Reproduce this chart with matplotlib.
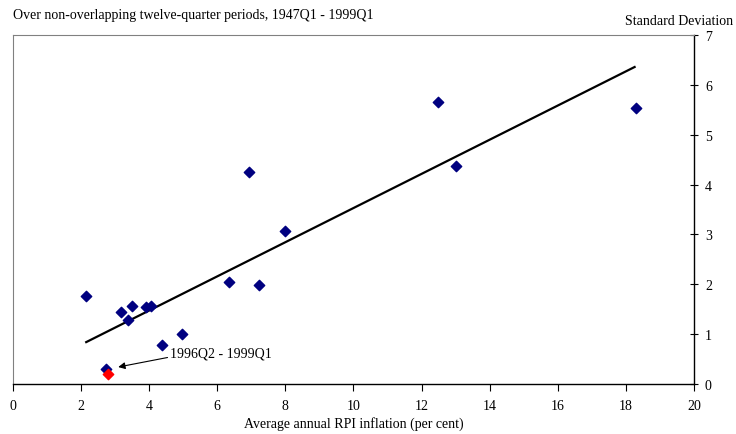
import matplotlib.pyplot as plt

plt.rcParams['font.family'] = ['Liberation Serif', 'DejaVu Serif']

# average annual RPI inflation (x) vs standard deviation (y)
inflation = [2.15, 3.18, 3.5, 3.38, 3.91, 4.06, 4.38, 4.97, 2.74,
             6.35, 7.24, 6.94, 8.0, 12.47, 13.0, 18.29]
std_dev = [1.76, 1.44, 1.56, 1.28, 1.54, 1.56, 0.78, 1.0, 0.30,
           2.05, 1.99, 4.25, 3.07, 5.66, 4.37, 5.54]

# latest period, highlighted
recent_x = [2.79]
recent_y = [0.2]

# fitted trend line end points
trend_x = [2.15, 18.26]
trend_y = [0.84, 6.36]

fig = plt.figure(figsize=(7.36, 4.35), dpi=100)
ax = fig.add_axes([0.0177, 0.115, 0.925, 0.802])

ax.plot(trend_x, trend_y, color='black', lw=1.6, zorder=2)
ax.scatter(inflation, std_dev, marker='D', s=28, color='#000080', zorder=3)
ax.scatter(recent_x, recent_y, marker='D', s=28, color='#ff0000', zorder=4)

ax.annotate('1996Q2 - 1999Q1', xy=(3.09, 0.34), xytext=(4.62, 0.62),
            fontsize=10, va='center', ha='left',
            arrowprops=dict(arrowstyle='-|>', color='black', lw=0.8,
                            mutation_scale=10, shrinkA=0, shrinkB=0,
                            relpos=(0, 0.2)))

ax.set_xlim(0, 20)
ax.set_ylim(0, 7)
ax.set_xticks(range(0, 21, 2))
ax.set_yticks(range(0, 8))
ax.yaxis.tick_right()
ax.tick_params(axis='x', direction='out', length=5, labelsize=10, pad=6)
ax.tick_params(axis='y', direction='inout', length=6, labelsize=10, pad=5)

for side in ['top', 'left']:
    ax.spines[side].set_color('#808080')
    ax.spines[side].set_linewidth(0.8)
for side in ['bottom', 'right']:
    ax.spines[side].set_color('black')
    ax.spines[side].set_linewidth(1.0)

ax.set_xlabel('Average annual RPI inflation (per cent)', fontsize=10, labelpad=3)
fig.text(0.0177, 0.965, 'Over non-overlapping twelve-quarter periods, 1947Q1 - 1999Q1',
         fontsize=10, ha='left', va='center')
fig.text(0.996, 0.95, 'Standard Deviation', fontsize=10, ha='right', va='center')

fig.savefig('out.png', dpi=100)
